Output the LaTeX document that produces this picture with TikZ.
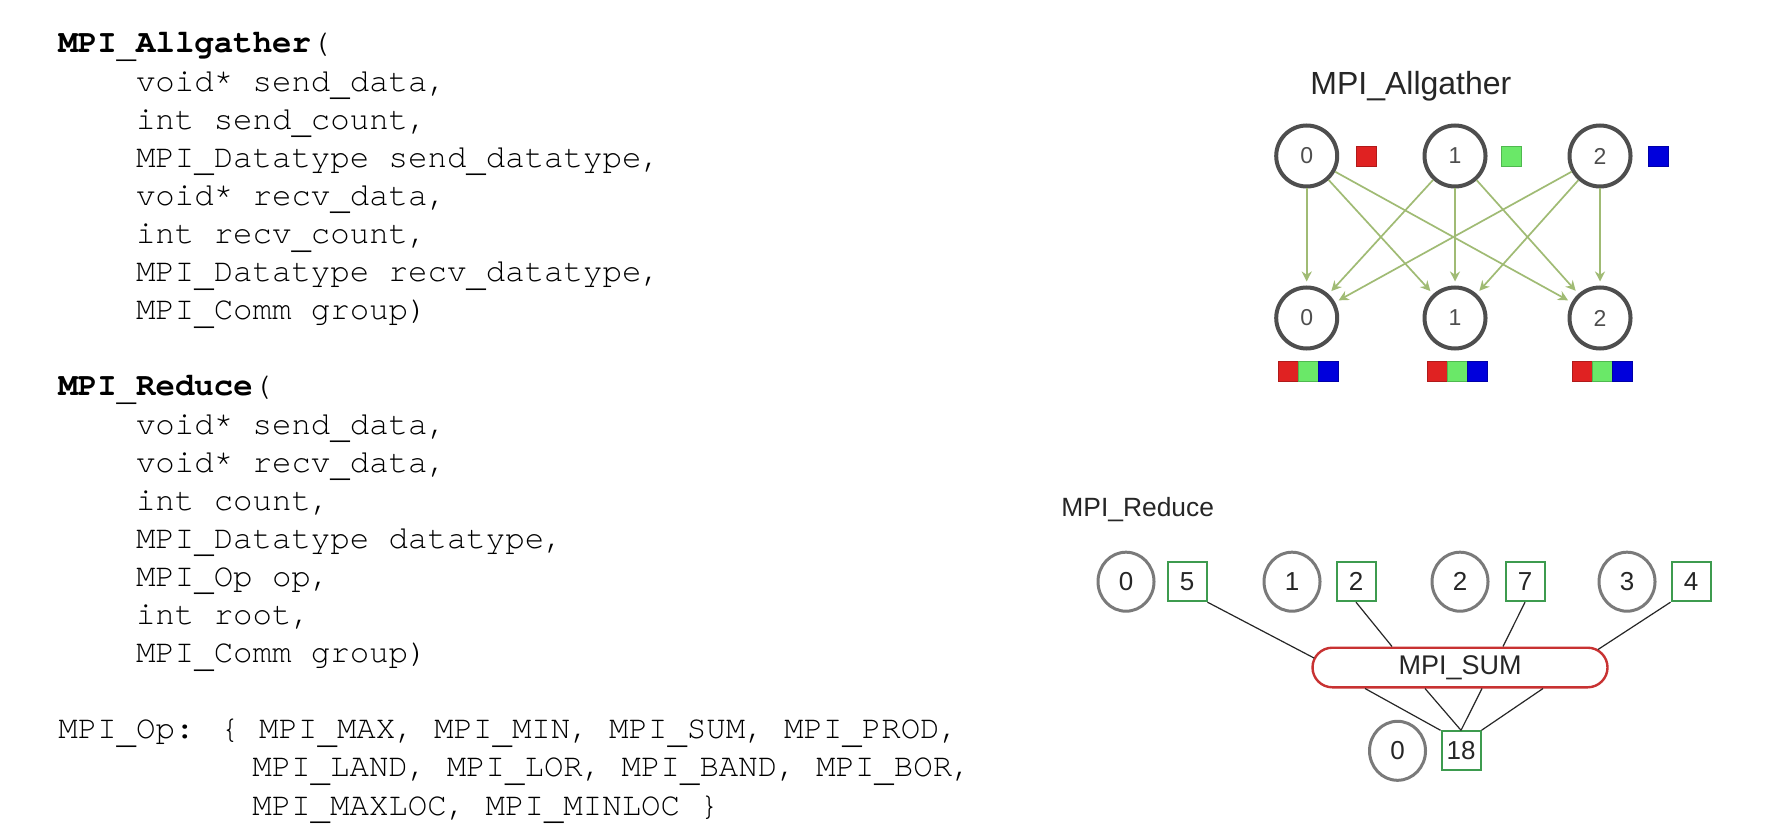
\documentclass[tikz,border=0pt]{standalone}
\usepackage{fontspec}
\setmainfont{Liberation Sans}
\newfontfamily\codefont{texgyrecursor}[Extension=.otf, UprightFont=*-regular, BoldFont=*-bold]
\newfontfamily\labfont{Liberation Sans}
\usetikzlibrary{arrows.meta,shapes.geometric,calc}
\newcommand\us{\raisebox{-0.14em}{\_}}
\definecolor{agray}{HTML}{4E4E4E}
\definecolor{rgray}{HTML}{7A7A7A}
\definecolor{agreen}{HTML}{A0BB74}
\definecolor{bgreen}{HTML}{3D9B4F}
\definecolor{sumred}{HTML}{C83232}
\definecolor{txt}{HTML}{262626}
\definecolor{sqred}{HTML}{E02222}
\definecolor{sqredb}{HTML}{B01A1A}
\definecolor{sqgreen}{HTML}{6AE868}
\definecolor{sqgreenb}{HTML}{4FB84F}
\definecolor{sqblue}{HTML}{0000DC}
\definecolor{sqblueb}{HTML}{0000A8}
\begin{document}
\begin{tikzpicture}[x=0.5pt,y=-0.5pt,
  code/.style={anchor=base west, inner sep=0pt, font=\codefont\fontsize{16.2}{19}\selectfont},
  agc/.style={circle, draw=agray, line width=2pt, minimum size=30.5pt, inner sep=0pt,
    font=\labfont\fontsize{11.5}{12}\selectfont, text=agray},
  sq/.style={rectangle, minimum size=10pt, inner sep=0pt, line width=0.5pt},
  sqr/.style={sq, fill=sqred, draw=sqredb},
  sqg/.style={sq, fill=sqgreen, draw=sqgreenb},
  sqb/.style={sq, fill=sqblue, draw=sqblueb},
  agarrow/.style={draw=agreen, line width=0.85pt, -{Stealth[length=5pt,width=5pt]}, shorten >=2pt},
  rc/.style={ellipse, draw=rgray, line width=1.5pt, minimum width=28pt, minimum height=29.5pt, inner sep=0pt,
    font=\labfont\fontsize{13}{14}\selectfont, text=txt},
  rb/.style={rectangle, draw=bgreen, line width=1pt, minimum size=19.5pt, inner sep=0pt,
    font=\labfont\fontsize{13}{14}\selectfont, text=txt},
  rl/.style={draw=txt, line width=0.6pt},
  ttl/.style={anchor=base west, inner sep=0pt, text=txt}
]
\useasboundingbox (0,0) rectangle (1776,828);
\fill[white] (0,0) rectangle (1776,828);

% ---------- code text ----------
\node[code] (c0)  at (58,53)    {\textbf{MPI\us Allgather}(};
\node[code] (c1)  at (135.6,91.1)  {void* send\us data,};
\node[code] (c2)  at (135.6,129.2) {int send\us count,};
\node[code] (c3)  at (135.6,167.3) {MPI\us Datatype send\us datatype,};
\node[code] (c4)  at (135.6,205.4) {void* recv\us data,};
\node[code] (c5)  at (135.6,243.5) {int recv\us count,};
\node[code] (c6)  at (135.6,281.6) {MPI\us Datatype recv\us datatype,};
\node[code] (c7)  at (135.6,319.7) {MPI\us Comm group)};
\node[code] (c9)  at (58,395.9)    {\textbf{MPI\us Reduce}(};
\node[code] (c10) at (135.6,434)   {void* send\us data,};
\node[code] (c11) at (135.6,472.1) {void* recv\us data,};
\node[code] (c12) at (135.6,510.2) {int count,};
\node[code] (c13) at (135.6,548.3) {MPI\us Datatype datatype,};
\node[code] (c14) at (135.6,586.4) {MPI\us Op op,};
\node[code] (c15) at (135.6,624.5) {int root,};
\node[code] (c16) at (135.6,662.6) {MPI\us Comm group)};
\node[code] (c18) at (58,738.8)    {MPI\us Op: \{ MPI\us MAX, MPI\us MIN, MPI\us SUM, MPI\us PROD,};
\node[code] (c19) at (252,776.9)   {MPI\us LAND, MPI\us LOR, MPI\us BAND, MPI\us BOR,};
\node[code] (c20) at (252,815)     {MPI\us MAXLOC, MPI\us MINLOC \}};

% ---------- MPI_Allgather diagram ----------
\node[ttl, font=\labfont\fontsize{16}{17}\selectfont] (agtitle) at (1310,95) {MPI\_Allgather};

\node[agc] (t0) at (1306.7,156) {0};
\node[agc] (t1) at (1455,156) {1};
\node[agc] (t2) at (1600,156) {2};
\node[agc] (b0) at (1306.7,318) {0};
\node[agc] (b1) at (1455,318) {1};
\node[agc] (b2) at (1600,318) {2};

\node[sqr] (tr) at (1366.7,156.3) {};
\node[sqg] (tg) at (1511,156.3) {};
\node[sqb] (tb) at (1658,156.3) {};

\foreach \cx/\n in {1306.7/0,1455/1,1600/2}{
  \node[sqr] (br\n) at (\cx-18,372) {};
  \node[sqg] (bg\n) at (\cx+2,372) {};
  \node[sqb] (bb\n) at (\cx+22,372) {};
}

\foreach \s in {0,1,2}{
  \foreach \d in {0,1,2}{
    \draw[agarrow] (t\s) -- (b\d);
  }
}

% ---------- MPI_Reduce diagram ----------
\node[ttl, font=\labfont\fontsize{13.2}{14}\selectfont] (rtitle) at (1061,516) {MPI\_Reduce};

\node[rc] (r0) at (1126,581.7) {0};
\node[rc] (r1) at (1292,581.7) {1};
\node[rc] (r2) at (1460,581.7) {2};
\node[rc] (r3) at (1627,581.7) {3};
\node[rb] (v0) at (1187,581.7) {5};
\node[rb] (v1) at (1356,581.7) {2};
\node[rb] (v2) at (1525,581.7) {7};
\node[rb] (v3) at (1691,581.7) {4};

\node[rectangle, rounded corners=9.9pt, draw=sumred, line width=1.2pt, minimum width=147.5pt,
  minimum height=19.8pt, inner sep=0pt, font=\labfont\fontsize{13.5}{14}\selectfont, text=txt]
  (sum) at (1460,667.5) {MPI\_SUM};

\node[rc] (rr) at (1397.5,750.8) {0};
\node[rb] (res) at (1461,750.8) {18};

\coordinate (sa) at ($(sum.center)+(-146,-9.5)$);
\coordinate (sb) at ($(sum.center)+(-68,-21)$);
\coordinate (sc) at ($(sum.center)+(43,-21)$);
\coordinate (sd) at ($(sum.center)+(138,-18)$);
\coordinate (se) at ($(sum.center)+(-95,21)$);
\coordinate (sf) at ($(sum.center)+(-35,21)$);
\coordinate (sg) at ($(sum.center)+(22,21)$);
\coordinate (sh) at ($(sum.center)+(83,21)$);

\draw[rl] (v0.south east) -- (sa);
\draw[rl] (v1.south) -- (sb);
\draw[rl] (v2.south) -- (sc);
\draw[rl] (v3.south west) -- (sd);
\draw[rl] (se) -- (res.north west);
\draw[rl] (sf) -- (res.north);
\draw[rl] (sg) -- (res.north);
\draw[rl] (sh) -- (res.north east);
\end{tikzpicture}
\end{document}
